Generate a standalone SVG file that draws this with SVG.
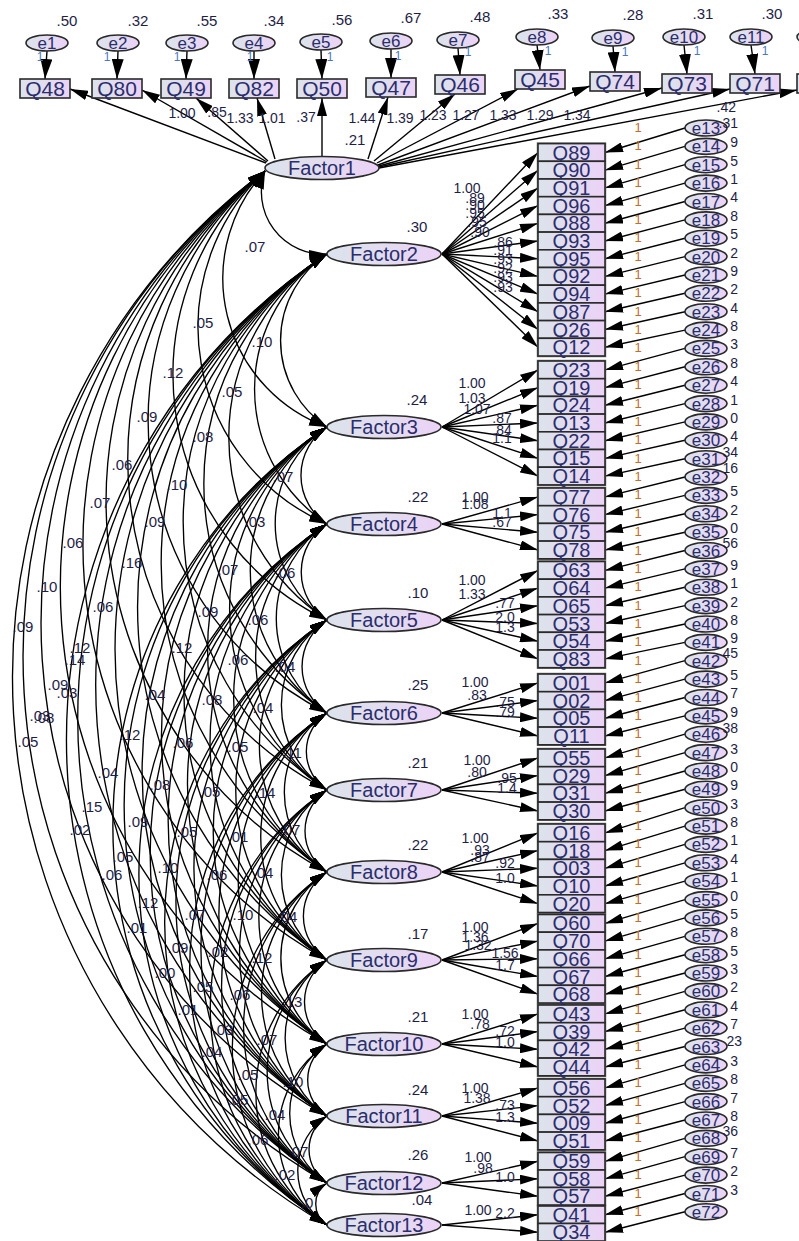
<svg xmlns="http://www.w3.org/2000/svg" width="799" height="1241" viewBox="0 0 799 1241">
<defs>
<linearGradient id="g" x1="0" y1="0" x2="1" y2="0"><stop offset="0" stop-color="#dce3ec"/><stop offset="0.5" stop-color="#e2dcef"/><stop offset="1" stop-color="#ecd2f7"/></linearGradient>
<marker id="a" viewBox="0 0 18 10" refX="18" refY="5" markerWidth="18" markerHeight="10" markerUnits="userSpaceOnUse" orient="auto-start-reverse"><path d="M0,0 L18,5 L0,10 z" fill="#000"/></marker>
<marker id="b" viewBox="0 0 20 12" refX="20" refY="6" markerWidth="20" markerHeight="12" markerUnits="userSpaceOnUse" orient="auto"><path d="M0,0 L20,6 L0,12 z" fill="#000"/></marker>
</defs>
<style>
.c{fill:none;stroke:#000;stroke-width:1.4;marker-end:url(#a)}
.t{fill:none;stroke:#000;stroke-width:1.4;marker-end:url(#b)}
.cv{fill:none;stroke:#000;stroke-width:1.35;marker-start:url(#a);marker-end:url(#a)}
.n{fill:url(#g);stroke:#2a2a2a;stroke-width:1.6}
.grp{fill:none;stroke:#777;stroke-width:2.5}
.tn{font-family:'Liberation Sans',Arial,sans-serif;fill:#2b2e6c;text-anchor:middle}
.f{font-size:20px}
.q{font-size:20px}
.qt{font-size:21px}
.et{font-size:17px}
.nm{font-family:'Liberation Sans',Arial,sans-serif;font-size:15px;fill:#1e1e46;text-anchor:middle}
.ld{font-family:'Liberation Sans',Arial,sans-serif;font-size:14px;fill:#1e1e46;text-anchor:middle}
.r2{font-family:'Liberation Sans',Arial,sans-serif;font-size:14px;fill:#1e1e46;text-anchor:end}
.one{font-family:'Liberation Sans',Arial,sans-serif;font-size:13px;fill:#c0702a;text-anchor:middle}
.oneb{font-family:'Liberation Sans',Arial,sans-serif;font-size:12px;fill:#4a78c0;text-anchor:middle}
</style>
<rect width="799" height="1241" fill="#fff"/>
<g id="connectors">
<path class="t" d="M47,51 L45,79"/><path class="t" d="M118,51 L117,79"/><path class="t" d="M187,51 L186,79"/><path class="t" d="M254,51 L254,79"/><path class="t" d="M321,50 L322,79"/><path class="t" d="M391,49 L391,78"/><path class="t" d="M458,48 L460,75"/><path class="t" d="M537,45 L540,70"/><path class="t" d="M613,46 L615,72"/><path class="t" d="M684,45 L687,74"/><path class="t" d="M751,45 L755,74"/><path class="t" d="M821,45 L822,74"/>
<path class="c" d="M266,163 L70,89"/><path class="c" d="M267,162 L142,90"/><path class="c" d="M268,161 L196,98"/><path class="c" d="M275,159 L257,98"/><path class="c" d="M322,156 L322,98"/><path class="c" d="M368,159 L388,97"/><path class="c" d="M374,161 L455,94"/><path class="c" d="M377,163 L518,89"/><path class="c" d="M378,165 L590,86"/><path class="c" d="M379,166 L662,88"/><path class="c" d="M379,167 L730,89"/><path class="c" d="M379,168 L797,90"/>
<path class="c" d="M442,254 L538,152.5"/><path class="c" d="M442,254 L538,170.2"/><path class="c" d="M442,254 L538,187.9"/><path class="c" d="M442,254 L538,205.6"/><path class="c" d="M442,254 L538,223.3"/><path class="c" d="M442,254 L538,241"/><path class="c" d="M442,254 L538,258.7"/><path class="c" d="M442,254 L538,276.4"/><path class="c" d="M442,254 L538,294.1"/><path class="c" d="M442,254 L538,311.8"/><path class="c" d="M442,254 L538,329.5"/><path class="c" d="M442,254 L538,347.2"/>
<path class="c" d="M442,427 L538,369.9"/><path class="c" d="M442,427 L538,387.6"/><path class="c" d="M442,427 L538,405.3"/><path class="c" d="M442,427 L538,423"/><path class="c" d="M442,427 L538,440.7"/><path class="c" d="M442,427 L538,458.4"/><path class="c" d="M442,427 L538,476.1"/>
<path class="c" d="M442,524 L538,496.9"/><path class="c" d="M442,524 L538,514.6"/><path class="c" d="M442,524 L538,532.3"/><path class="c" d="M442,524 L538,550"/>
<path class="c" d="M442,620 L538,570.4"/><path class="c" d="M442,620 L538,588.1"/><path class="c" d="M442,620 L538,605.8"/><path class="c" d="M442,620 L538,623.5"/><path class="c" d="M442,620 L538,641.2"/><path class="c" d="M442,620 L538,658.9"/>
<path class="c" d="M442,713 L538,682.9"/><path class="c" d="M442,713 L538,700.6"/><path class="c" d="M442,713 L538,718.3"/><path class="c" d="M442,713 L538,736"/>
<path class="c" d="M442,790 L538,757.9"/><path class="c" d="M442,790 L538,775.6"/><path class="c" d="M442,790 L538,793.3"/><path class="c" d="M442,790 L538,811"/>
<path class="c" d="M442,872 L538,832.9"/><path class="c" d="M442,872 L538,850.6"/><path class="c" d="M442,872 L538,868.3"/><path class="c" d="M442,872 L538,886"/><path class="c" d="M442,872 L538,903.7"/>
<path class="c" d="M442,960 L538,923.4"/><path class="c" d="M442,960 L538,941.1"/><path class="c" d="M442,960 L538,958.8"/><path class="c" d="M442,960 L538,976.5"/><path class="c" d="M442,960 L538,994.2"/>
<path class="c" d="M442,1044 L538,1013.9"/><path class="c" d="M442,1044 L538,1031.6"/><path class="c" d="M442,1044 L538,1049.3"/><path class="c" d="M442,1044 L538,1067"/>
<path class="c" d="M442,1116 L538,1087.9"/><path class="c" d="M442,1116 L538,1105.6"/><path class="c" d="M442,1116 L538,1123.3"/><path class="c" d="M442,1116 L538,1141"/>
<path class="c" d="M442,1183 L538,1161.3"/><path class="c" d="M442,1183 L538,1178.8"/><path class="c" d="M442,1183 L538,1196.3"/>
<path class="c" d="M442,1225 L538,1214.8"/><path class="c" d="M442,1225 L538,1232.3"/>
<path class="c" d="M685,128 L605,152.5"/><path class="c" d="M685,146.4 L605,170.2"/><path class="c" d="M685,164.7 L605,187.9"/><path class="c" d="M685,183.1 L605,205.6"/><path class="c" d="M685,201.5 L605,223.3"/><path class="c" d="M685,219.9 L605,241"/><path class="c" d="M685,238.2 L605,258.7"/><path class="c" d="M685,256.6 L605,276.4"/><path class="c" d="M685,275 L605,294.1"/><path class="c" d="M685,293.3 L605,311.8"/><path class="c" d="M685,311.7 L605,329.5"/><path class="c" d="M685,330.1 L605,347.2"/>
<path class="c" d="M685,348.4 L605,369.9"/><path class="c" d="M685,366.8 L605,387.6"/><path class="c" d="M685,385.2 L605,405.3"/><path class="c" d="M685,403.6 L605,423"/><path class="c" d="M685,421.9 L605,440.7"/><path class="c" d="M685,440.3 L605,458.4"/><path class="c" d="M685,458.7 L605,476.1"/>
<path class="c" d="M685,477 L605,496.9"/><path class="c" d="M685,495.4 L605,514.6"/><path class="c" d="M685,513.8 L605,532.3"/><path class="c" d="M685,532.2 L605,550"/>
<path class="c" d="M685,550.5 L605,570.4"/><path class="c" d="M685,568.9 L605,588.1"/><path class="c" d="M685,587.3 L605,605.8"/><path class="c" d="M685,605.6 L605,623.5"/><path class="c" d="M685,624 L605,641.2"/><path class="c" d="M685,642.4 L605,658.9"/>
<path class="c" d="M685,660.7 L605,682.9"/><path class="c" d="M685,679.1 L605,700.6"/><path class="c" d="M685,697.5 L605,718.3"/><path class="c" d="M685,715.9 L605,736"/>
<path class="c" d="M685,734.2 L605,757.9"/><path class="c" d="M685,752.6 L605,775.6"/><path class="c" d="M685,771 L605,793.3"/><path class="c" d="M685,789.3 L605,811"/>
<path class="c" d="M685,807.7 L605,832.9"/><path class="c" d="M685,826.1 L605,850.6"/><path class="c" d="M685,844.4 L605,868.3"/><path class="c" d="M685,862.8 L605,886"/><path class="c" d="M685,881.2 L605,903.7"/>
<path class="c" d="M685,899.6 L605,923.4"/><path class="c" d="M685,917.9 L605,941.1"/><path class="c" d="M685,936.3 L605,958.8"/><path class="c" d="M685,954.7 L605,976.5"/><path class="c" d="M685,973 L605,994.2"/>
<path class="c" d="M685,991.4 L605,1013.9"/><path class="c" d="M685,1009.8 L605,1031.6"/><path class="c" d="M685,1028.1 L605,1049.3"/><path class="c" d="M685,1046.5 L605,1067"/>
<path class="c" d="M685,1064.9 L605,1087.9"/><path class="c" d="M685,1083.3 L605,1105.6"/><path class="c" d="M685,1101.6 L605,1123.3"/><path class="c" d="M685,1120 L605,1141"/>
<path class="c" d="M685,1138.4 L605,1161.3"/><path class="c" d="M685,1156.7 L605,1178.8"/><path class="c" d="M685,1175.1 L605,1196.3"/>
<path class="c" d="M685,1193.5 L605,1214.8"/><path class="c" d="M685,1211.8 L605,1232.3"/>
<path class="cv" d="M265,171 A62.2 62.2 0 0 0 327,254"/>
<path class="cv" d="M265,171 A158 158 0 0 0 327,427"/>
<path class="cv" d="M265,171 A215 215 0 0 0 327,524"/>
<path class="cv" d="M265,171 A272 272 0 0 0 327,620"/>
<path class="cv" d="M265,171 A327 327 0 0 0 327,713"/>
<path class="cv" d="M265,171 A373 373 0 0 0 327,790"/>
<path class="cv" d="M265,171 A422 422 0 0 0 327,872"/>
<path class="cv" d="M265,171 A475 475 0 0 0 327,960"/>
<path class="cv" d="M265,171 A525 525 0 0 0 327,1044"/>
<path class="cv" d="M265,171 A568 568 0 0 0 327,1116"/>
<path class="cv" d="M265,171 A608 608 0 0 0 327,1183"/>
<path class="cv" d="M265,171 A634 634 0 0 0 327,1225"/>
<path class="cv" d="M327,254 A103.8 103.8 0 0 0 327,427"/>
<path class="cv" d="M327,254 A162 162 0 0 0 327,524"/>
<path class="cv" d="M327,254 A219.6 219.6 0 0 0 327,620"/>
<path class="cv" d="M327,254 A275.4 275.4 0 0 0 327,713"/>
<path class="cv" d="M327,254 A321.6 321.6 0 0 0 327,790"/>
<path class="cv" d="M327,254 A370.8 370.8 0 0 0 327,872"/>
<path class="cv" d="M327,254 A423.6 423.6 0 0 0 327,960"/>
<path class="cv" d="M327,254 A474 474 0 0 0 327,1044"/>
<path class="cv" d="M327,254 A517.2 517.2 0 0 0 327,1116"/>
<path class="cv" d="M327,254 A557.4 557.4 0 0 0 327,1183"/>
<path class="cv" d="M327,254 A582.6 582.6 0 0 0 327,1225"/>
<path class="cv" d="M327,427 A58.2 58.2 0 0 0 327,524"/>
<path class="cv" d="M327,427 A115.8 115.8 0 0 0 327,620"/>
<path class="cv" d="M327,427 A171.6 171.6 0 0 0 327,713"/>
<path class="cv" d="M327,427 A217.8 217.8 0 0 0 327,790"/>
<path class="cv" d="M327,427 A267 267 0 0 0 327,872"/>
<path class="cv" d="M327,427 A319.8 319.8 0 0 0 327,960"/>
<path class="cv" d="M327,427 A370.2 370.2 0 0 0 327,1044"/>
<path class="cv" d="M327,427 A413.4 413.4 0 0 0 327,1116"/>
<path class="cv" d="M327,427 A453.6 453.6 0 0 0 327,1183"/>
<path class="cv" d="M327,427 A478.8 478.8 0 0 0 327,1225"/>
<path class="cv" d="M327,524 A57.6 57.6 0 0 0 327,620"/>
<path class="cv" d="M327,524 A113.4 113.4 0 0 0 327,713"/>
<path class="cv" d="M327,524 A159.6 159.6 0 0 0 327,790"/>
<path class="cv" d="M327,524 A208.8 208.8 0 0 0 327,872"/>
<path class="cv" d="M327,524 A261.6 261.6 0 0 0 327,960"/>
<path class="cv" d="M327,524 A312 312 0 0 0 327,1044"/>
<path class="cv" d="M327,524 A355.2 355.2 0 0 0 327,1116"/>
<path class="cv" d="M327,524 A395.4 395.4 0 0 0 327,1183"/>
<path class="cv" d="M327,524 A420.6 420.6 0 0 0 327,1225"/>
<path class="cv" d="M327,620 A55.8 55.8 0 0 0 327,713"/>
<path class="cv" d="M327,620 A102 102 0 0 0 327,790"/>
<path class="cv" d="M327,620 A151.2 151.2 0 0 0 327,872"/>
<path class="cv" d="M327,620 A204 204 0 0 0 327,960"/>
<path class="cv" d="M327,620 A254.4 254.4 0 0 0 327,1044"/>
<path class="cv" d="M327,620 A297.6 297.6 0 0 0 327,1116"/>
<path class="cv" d="M327,620 A337.8 337.8 0 0 0 327,1183"/>
<path class="cv" d="M327,620 A363 363 0 0 0 327,1225"/>
<path class="cv" d="M327,713 A46.2 46.2 0 0 0 327,790"/>
<path class="cv" d="M327,713 A95.4 95.4 0 0 0 327,872"/>
<path class="cv" d="M327,713 A148.2 148.2 0 0 0 327,960"/>
<path class="cv" d="M327,713 A198.6 198.6 0 0 0 327,1044"/>
<path class="cv" d="M327,713 A241.8 241.8 0 0 0 327,1116"/>
<path class="cv" d="M327,713 A282 282 0 0 0 327,1183"/>
<path class="cv" d="M327,713 A307.2 307.2 0 0 0 327,1225"/>
<path class="cv" d="M327,790 A49.2 49.2 0 0 0 327,872"/>
<path class="cv" d="M327,790 A102 102 0 0 0 327,960"/>
<path class="cv" d="M327,790 A152.4 152.4 0 0 0 327,1044"/>
<path class="cv" d="M327,790 A195.6 195.6 0 0 0 327,1116"/>
<path class="cv" d="M327,790 A235.8 235.8 0 0 0 327,1183"/>
<path class="cv" d="M327,790 A261 261 0 0 0 327,1225"/>
<path class="cv" d="M327,872 A52.8 52.8 0 0 0 327,960"/>
<path class="cv" d="M327,872 A103.2 103.2 0 0 0 327,1044"/>
<path class="cv" d="M327,872 A146.4 146.4 0 0 0 327,1116"/>
<path class="cv" d="M327,872 A186.6 186.6 0 0 0 327,1183"/>
<path class="cv" d="M327,872 A211.8 211.8 0 0 0 327,1225"/>
<path class="cv" d="M327,960 A50.4 50.4 0 0 0 327,1044"/>
<path class="cv" d="M327,960 A93.6 93.6 0 0 0 327,1116"/>
<path class="cv" d="M327,960 A133.8 133.8 0 0 0 327,1183"/>
<path class="cv" d="M327,960 A159 159 0 0 0 327,1225"/>
<path class="cv" d="M327,1044 A43.2 43.2 0 0 0 327,1116"/>
<path class="cv" d="M327,1044 A83.4 83.4 0 0 0 327,1183"/>
<path class="cv" d="M327,1044 A108.6 108.6 0 0 0 327,1225"/>
<path class="cv" d="M327,1116 A40.2 40.2 0 0 0 327,1183"/>
<path class="cv" d="M327,1116 A65.4 65.4 0 0 0 327,1225"/>
<path class="cv" d="M327,1183 A25.2 25.2 0 0 0 327,1225"/>
</g>
<g id="top-errors">
<g id="e1"><ellipse class="n" cx="47" cy="43" rx="21" ry="8"/><text class="tn et" x="47" y="49">e1</text></g>
<g id="e2"><ellipse class="n" cx="118" cy="43" rx="21" ry="8"/><text class="tn et" x="118" y="49">e2</text></g>
<g id="e3"><ellipse class="n" cx="187" cy="43" rx="21" ry="8"/><text class="tn et" x="187" y="49">e3</text></g>
<g id="e4"><ellipse class="n" cx="254" cy="43" rx="21" ry="8"/><text class="tn et" x="254" y="49">e4</text></g>
<g id="e5"><ellipse class="n" cx="321" cy="42" rx="21" ry="8"/><text class="tn et" x="321" y="48">e5</text></g>
<g id="e6"><ellipse class="n" cx="391" cy="41" rx="21" ry="8"/><text class="tn et" x="391" y="47">e6</text></g>
<g id="e7"><ellipse class="n" cx="458" cy="40" rx="21" ry="8"/><text class="tn et" x="458" y="46">e7</text></g>
<g id="e8"><ellipse class="n" cx="537" cy="37" rx="21" ry="8"/><text class="tn et" x="537" y="43">e8</text></g>
<g id="e9"><ellipse class="n" cx="613" cy="38" rx="21" ry="8"/><text class="tn et" x="613" y="44">e9</text></g>
<g id="e10"><ellipse class="n" cx="684" cy="37" rx="21" ry="8"/><text class="tn et" x="684" y="43">e10</text></g>
<g id="e11"><ellipse class="n" cx="751" cy="37" rx="21" ry="8"/><text class="tn et" x="751" y="43">e11</text></g>
<g id="e12"><ellipse class="n" cx="818" cy="37" rx="21" ry="8"/></g>
</g>
<g id="top-items">
<g id="Q48"><rect class="n" x="20" y="79" width="50" height="19"/><text class="tn qt" x="45" y="95.5">Q48</text></g>
<g id="Q80"><rect class="n" x="92" y="79" width="50" height="19"/><text class="tn qt" x="117" y="95.5">Q80</text></g>
<g id="Q49"><rect class="n" x="161" y="79" width="50" height="19"/><text class="tn qt" x="186" y="95.5">Q49</text></g>
<g id="Q82"><rect class="n" x="229" y="79" width="50" height="19"/><text class="tn qt" x="254" y="95.5">Q82</text></g>
<g id="Q50"><rect class="n" x="297" y="79" width="50" height="19"/><text class="tn qt" x="322" y="95.5">Q50</text></g>
<g id="Q47"><rect class="n" x="366" y="78" width="50" height="19"/><text class="tn qt" x="391" y="94.5">Q47</text></g>
<g id="Q46"><rect class="n" x="435" y="75" width="50" height="19"/><text class="tn qt" x="460" y="91.5">Q46</text></g>
<g id="Q45"><rect class="n" x="515" y="70" width="50" height="19"/><text class="tn qt" x="540" y="86.5">Q45</text></g>
<g id="Q74"><rect class="n" x="590" y="72" width="50" height="19"/><text class="tn qt" x="615" y="88.5">Q74</text></g>
<g id="Q73"><rect class="n" x="662" y="74" width="50" height="19"/><text class="tn qt" x="687" y="90.5">Q73</text></g>
<g id="Q71"><rect class="n" x="730" y="74" width="50" height="19"/><text class="tn qt" x="755" y="90.5">Q71</text></g>
<g id="Q-edge"><rect class="n" x="797" y="74" width="50" height="19"/></g>
</g>
<g id="factors">
<g id="Factor1"><ellipse class="n" cx="322" cy="168" rx="57" ry="11.5"/><text class="tn f" x="322" y="175">Factor1</text></g>
<g id="Factor2"><ellipse class="n" cx="384" cy="254" rx="57" ry="11.5"/><text class="tn f" x="384" y="261">Factor2</text></g>
<g id="Factor3"><ellipse class="n" cx="384" cy="427" rx="57" ry="11.5"/><text class="tn f" x="384" y="434">Factor3</text></g>
<g id="Factor4"><ellipse class="n" cx="384" cy="524" rx="57" ry="11.5"/><text class="tn f" x="384" y="531">Factor4</text></g>
<g id="Factor5"><ellipse class="n" cx="384" cy="620" rx="57" ry="11.5"/><text class="tn f" x="384" y="627">Factor5</text></g>
<g id="Factor6"><ellipse class="n" cx="384" cy="713" rx="57" ry="11.5"/><text class="tn f" x="384" y="720">Factor6</text></g>
<g id="Factor7"><ellipse class="n" cx="384" cy="790" rx="57" ry="11.5"/><text class="tn f" x="384" y="797">Factor7</text></g>
<g id="Factor8"><ellipse class="n" cx="384" cy="872" rx="57" ry="11.5"/><text class="tn f" x="384" y="879">Factor8</text></g>
<g id="Factor9"><ellipse class="n" cx="384" cy="960" rx="57" ry="11.5"/><text class="tn f" x="384" y="967">Factor9</text></g>
<g id="Factor10"><ellipse class="n" cx="384" cy="1044" rx="57" ry="11.5"/><text class="tn f" x="384" y="1051">Factor10</text></g>
<g id="Factor11"><ellipse class="n" cx="384" cy="1116" rx="57" ry="11.5"/><text class="tn f" x="384" y="1123">Factor11</text></g>
<g id="Factor12"><ellipse class="n" cx="384" cy="1183" rx="57" ry="11.5"/><text class="tn f" x="384" y="1190">Factor12</text></g>
<g id="Factor13"><ellipse class="n" cx="384" cy="1225" rx="57" ry="11.5"/><text class="tn f" x="384" y="1232">Factor13</text></g>
</g>
<g id="items">
<rect class="grp" x="538" y="143.6" width="67" height="212.4"/>
<rect class="grp" x="538" y="361" width="67" height="123.9"/>
<rect class="grp" x="538" y="488" width="67" height="70.8"/>
<rect class="grp" x="538" y="561.5" width="67" height="106.2"/>
<rect class="grp" x="538" y="674" width="67" height="70.8"/>
<rect class="grp" x="538" y="749" width="67" height="70.8"/>
<rect class="grp" x="538" y="824" width="67" height="88.5"/>
<rect class="grp" x="538" y="914.5" width="67" height="88.5"/>
<rect class="grp" x="538" y="1005" width="67" height="70.8"/>
<rect class="grp" x="538" y="1079" width="67" height="70.8"/>
<rect class="grp" x="538" y="1152.5" width="67" height="52.5"/>
<rect class="grp" x="538" y="1206" width="67" height="35"/>
<g id="Q89"><rect class="n" x="538" y="143.6" width="67" height="17.7"/><text class="tn q" x="571.5" y="159.5">Q89</text></g>
<g id="Q90"><rect class="n" x="538" y="161.3" width="67" height="17.7"/><text class="tn q" x="571.5" y="177.2">Q90</text></g>
<g id="Q91"><rect class="n" x="538" y="179" width="67" height="17.7"/><text class="tn q" x="571.5" y="194.9">Q91</text></g>
<g id="Q96"><rect class="n" x="538" y="196.7" width="67" height="17.7"/><text class="tn q" x="571.5" y="212.6">Q96</text></g>
<g id="Q88"><rect class="n" x="538" y="214.4" width="67" height="17.7"/><text class="tn q" x="571.5" y="230.3">Q88</text></g>
<g id="Q93"><rect class="n" x="538" y="232.1" width="67" height="17.7"/><text class="tn q" x="571.5" y="248">Q93</text></g>
<g id="Q95"><rect class="n" x="538" y="249.8" width="67" height="17.7"/><text class="tn q" x="571.5" y="265.7">Q95</text></g>
<g id="Q92"><rect class="n" x="538" y="267.5" width="67" height="17.7"/><text class="tn q" x="571.5" y="283.4">Q92</text></g>
<g id="Q94"><rect class="n" x="538" y="285.2" width="67" height="17.7"/><text class="tn q" x="571.5" y="301.1">Q94</text></g>
<g id="Q87"><rect class="n" x="538" y="302.9" width="67" height="17.7"/><text class="tn q" x="571.5" y="318.8">Q87</text></g>
<g id="Q26"><rect class="n" x="538" y="320.6" width="67" height="17.7"/><text class="tn q" x="571.5" y="336.5">Q26</text></g>
<g id="Q12"><rect class="n" x="538" y="338.3" width="67" height="17.7"/><text class="tn q" x="571.5" y="354.2">Q12</text></g>
<g id="Q23"><rect class="n" x="538" y="361" width="67" height="17.7"/><text class="tn q" x="571.5" y="376.9">Q23</text></g>
<g id="Q19"><rect class="n" x="538" y="378.7" width="67" height="17.7"/><text class="tn q" x="571.5" y="394.6">Q19</text></g>
<g id="Q24"><rect class="n" x="538" y="396.4" width="67" height="17.7"/><text class="tn q" x="571.5" y="412.3">Q24</text></g>
<g id="Q13"><rect class="n" x="538" y="414.1" width="67" height="17.7"/><text class="tn q" x="571.5" y="430">Q13</text></g>
<g id="Q22"><rect class="n" x="538" y="431.8" width="67" height="17.7"/><text class="tn q" x="571.5" y="447.7">Q22</text></g>
<g id="Q15"><rect class="n" x="538" y="449.5" width="67" height="17.7"/><text class="tn q" x="571.5" y="465.4">Q15</text></g>
<g id="Q14"><rect class="n" x="538" y="467.2" width="67" height="17.7"/><text class="tn q" x="571.5" y="483.1">Q14</text></g>
<g id="Q77"><rect class="n" x="538" y="488" width="67" height="17.7"/><text class="tn q" x="571.5" y="503.9">Q77</text></g>
<g id="Q76"><rect class="n" x="538" y="505.7" width="67" height="17.7"/><text class="tn q" x="571.5" y="521.6">Q76</text></g>
<g id="Q75"><rect class="n" x="538" y="523.4" width="67" height="17.7"/><text class="tn q" x="571.5" y="539.3">Q75</text></g>
<g id="Q78"><rect class="n" x="538" y="541.1" width="67" height="17.7"/><text class="tn q" x="571.5" y="557">Q78</text></g>
<g id="Q63"><rect class="n" x="538" y="561.5" width="67" height="17.7"/><text class="tn q" x="571.5" y="577.4">Q63</text></g>
<g id="Q64"><rect class="n" x="538" y="579.2" width="67" height="17.7"/><text class="tn q" x="571.5" y="595.1">Q64</text></g>
<g id="Q65"><rect class="n" x="538" y="596.9" width="67" height="17.7"/><text class="tn q" x="571.5" y="612.8">Q65</text></g>
<g id="Q53"><rect class="n" x="538" y="614.6" width="67" height="17.7"/><text class="tn q" x="571.5" y="630.5">Q53</text></g>
<g id="Q54"><rect class="n" x="538" y="632.3" width="67" height="17.7"/><text class="tn q" x="571.5" y="648.2">Q54</text></g>
<g id="Q83"><rect class="n" x="538" y="650" width="67" height="17.7"/><text class="tn q" x="571.5" y="665.9">Q83</text></g>
<g id="Q01"><rect class="n" x="538" y="674" width="67" height="17.7"/><text class="tn q" x="571.5" y="689.9">Q01</text></g>
<g id="Q02"><rect class="n" x="538" y="691.7" width="67" height="17.7"/><text class="tn q" x="571.5" y="707.6">Q02</text></g>
<g id="Q05"><rect class="n" x="538" y="709.4" width="67" height="17.7"/><text class="tn q" x="571.5" y="725.3">Q05</text></g>
<g id="Q11"><rect class="n" x="538" y="727.1" width="67" height="17.7"/><text class="tn q" x="571.5" y="743">Q11</text></g>
<g id="Q55"><rect class="n" x="538" y="749" width="67" height="17.7"/><text class="tn q" x="571.5" y="764.9">Q55</text></g>
<g id="Q29"><rect class="n" x="538" y="766.7" width="67" height="17.7"/><text class="tn q" x="571.5" y="782.6">Q29</text></g>
<g id="Q31"><rect class="n" x="538" y="784.4" width="67" height="17.7"/><text class="tn q" x="571.5" y="800.3">Q31</text></g>
<g id="Q30"><rect class="n" x="538" y="802.1" width="67" height="17.7"/><text class="tn q" x="571.5" y="818">Q30</text></g>
<g id="Q16"><rect class="n" x="538" y="824" width="67" height="17.7"/><text class="tn q" x="571.5" y="839.9">Q16</text></g>
<g id="Q18"><rect class="n" x="538" y="841.7" width="67" height="17.7"/><text class="tn q" x="571.5" y="857.6">Q18</text></g>
<g id="Q03"><rect class="n" x="538" y="859.4" width="67" height="17.7"/><text class="tn q" x="571.5" y="875.3">Q03</text></g>
<g id="Q10"><rect class="n" x="538" y="877.1" width="67" height="17.7"/><text class="tn q" x="571.5" y="893">Q10</text></g>
<g id="Q20"><rect class="n" x="538" y="894.8" width="67" height="17.7"/><text class="tn q" x="571.5" y="910.7">Q20</text></g>
<g id="Q60"><rect class="n" x="538" y="914.5" width="67" height="17.7"/><text class="tn q" x="571.5" y="930.4">Q60</text></g>
<g id="Q70"><rect class="n" x="538" y="932.2" width="67" height="17.7"/><text class="tn q" x="571.5" y="948.1">Q70</text></g>
<g id="Q66"><rect class="n" x="538" y="949.9" width="67" height="17.7"/><text class="tn q" x="571.5" y="965.8">Q66</text></g>
<g id="Q67"><rect class="n" x="538" y="967.6" width="67" height="17.7"/><text class="tn q" x="571.5" y="983.5">Q67</text></g>
<g id="Q68"><rect class="n" x="538" y="985.3" width="67" height="17.7"/><text class="tn q" x="571.5" y="1001.2">Q68</text></g>
<g id="Q43"><rect class="n" x="538" y="1005" width="67" height="17.7"/><text class="tn q" x="571.5" y="1020.9">Q43</text></g>
<g id="Q39"><rect class="n" x="538" y="1022.7" width="67" height="17.7"/><text class="tn q" x="571.5" y="1038.6">Q39</text></g>
<g id="Q42"><rect class="n" x="538" y="1040.4" width="67" height="17.7"/><text class="tn q" x="571.5" y="1056.3">Q42</text></g>
<g id="Q44"><rect class="n" x="538" y="1058.1" width="67" height="17.7"/><text class="tn q" x="571.5" y="1074">Q44</text></g>
<g id="Q56"><rect class="n" x="538" y="1079" width="67" height="17.7"/><text class="tn q" x="571.5" y="1094.9">Q56</text></g>
<g id="Q52"><rect class="n" x="538" y="1096.7" width="67" height="17.7"/><text class="tn q" x="571.5" y="1112.6">Q52</text></g>
<g id="Q09"><rect class="n" x="538" y="1114.4" width="67" height="17.7"/><text class="tn q" x="571.5" y="1130.3">Q09</text></g>
<g id="Q51"><rect class="n" x="538" y="1132.1" width="67" height="17.7"/><text class="tn q" x="571.5" y="1148">Q51</text></g>
<g id="Q59"><rect class="n" x="538" y="1152.5" width="67" height="17.5"/><text class="tn q" x="571.5" y="1168.3">Q59</text></g>
<g id="Q58"><rect class="n" x="538" y="1170" width="67" height="17.5"/><text class="tn q" x="571.5" y="1185.8">Q58</text></g>
<g id="Q57"><rect class="n" x="538" y="1187.5" width="67" height="17.5"/><text class="tn q" x="571.5" y="1203.3">Q57</text></g>
<g id="Q41"><rect class="n" x="538" y="1206" width="67" height="17.5"/><text class="tn q" x="571.5" y="1221.8">Q41</text></g>
<g id="Q34"><rect class="n" x="538" y="1223.5" width="67" height="17.5"/><text class="tn q" x="571.5" y="1239.3">Q34</text></g>
</g>
<g id="errors">
<g id="e13"><ellipse class="n" cx="706" cy="128" rx="21" ry="8"/><text class="tn et" x="706" y="134">e13</text></g>
<g id="e14"><ellipse class="n" cx="706" cy="146.4" rx="21" ry="8"/><text class="tn et" x="706" y="152.4">e14</text></g>
<g id="e15"><ellipse class="n" cx="706" cy="164.7" rx="21" ry="8"/><text class="tn et" x="706" y="170.7">e15</text></g>
<g id="e16"><ellipse class="n" cx="706" cy="183.1" rx="21" ry="8"/><text class="tn et" x="706" y="189.1">e16</text></g>
<g id="e17"><ellipse class="n" cx="706" cy="201.5" rx="21" ry="8"/><text class="tn et" x="706" y="207.5">e17</text></g>
<g id="e18"><ellipse class="n" cx="706" cy="219.9" rx="21" ry="8"/><text class="tn et" x="706" y="225.9">e18</text></g>
<g id="e19"><ellipse class="n" cx="706" cy="238.2" rx="21" ry="8"/><text class="tn et" x="706" y="244.2">e19</text></g>
<g id="e20"><ellipse class="n" cx="706" cy="256.6" rx="21" ry="8"/><text class="tn et" x="706" y="262.6">e20</text></g>
<g id="e21"><ellipse class="n" cx="706" cy="275" rx="21" ry="8"/><text class="tn et" x="706" y="281">e21</text></g>
<g id="e22"><ellipse class="n" cx="706" cy="293.3" rx="21" ry="8"/><text class="tn et" x="706" y="299.3">e22</text></g>
<g id="e23"><ellipse class="n" cx="706" cy="311.7" rx="21" ry="8"/><text class="tn et" x="706" y="317.7">e23</text></g>
<g id="e24"><ellipse class="n" cx="706" cy="330.1" rx="21" ry="8"/><text class="tn et" x="706" y="336.1">e24</text></g>
<g id="e25"><ellipse class="n" cx="706" cy="348.4" rx="21" ry="8"/><text class="tn et" x="706" y="354.4">e25</text></g>
<g id="e26"><ellipse class="n" cx="706" cy="366.8" rx="21" ry="8"/><text class="tn et" x="706" y="372.8">e26</text></g>
<g id="e27"><ellipse class="n" cx="706" cy="385.2" rx="21" ry="8"/><text class="tn et" x="706" y="391.2">e27</text></g>
<g id="e28"><ellipse class="n" cx="706" cy="403.6" rx="21" ry="8"/><text class="tn et" x="706" y="409.6">e28</text></g>
<g id="e29"><ellipse class="n" cx="706" cy="421.9" rx="21" ry="8"/><text class="tn et" x="706" y="427.9">e29</text></g>
<g id="e30"><ellipse class="n" cx="706" cy="440.3" rx="21" ry="8"/><text class="tn et" x="706" y="446.3">e30</text></g>
<g id="e31"><ellipse class="n" cx="706" cy="458.7" rx="21" ry="8"/><text class="tn et" x="706" y="464.7">e31</text></g>
<g id="e32"><ellipse class="n" cx="706" cy="477" rx="21" ry="8"/><text class="tn et" x="706" y="483">e32</text></g>
<g id="e33"><ellipse class="n" cx="706" cy="495.4" rx="21" ry="8"/><text class="tn et" x="706" y="501.4">e33</text></g>
<g id="e34"><ellipse class="n" cx="706" cy="513.8" rx="21" ry="8"/><text class="tn et" x="706" y="519.8">e34</text></g>
<g id="e35"><ellipse class="n" cx="706" cy="532.2" rx="21" ry="8"/><text class="tn et" x="706" y="538.2">e35</text></g>
<g id="e36"><ellipse class="n" cx="706" cy="550.5" rx="21" ry="8"/><text class="tn et" x="706" y="556.5">e36</text></g>
<g id="e37"><ellipse class="n" cx="706" cy="568.9" rx="21" ry="8"/><text class="tn et" x="706" y="574.9">e37</text></g>
<g id="e38"><ellipse class="n" cx="706" cy="587.3" rx="21" ry="8"/><text class="tn et" x="706" y="593.3">e38</text></g>
<g id="e39"><ellipse class="n" cx="706" cy="605.6" rx="21" ry="8"/><text class="tn et" x="706" y="611.6">e39</text></g>
<g id="e40"><ellipse class="n" cx="706" cy="624" rx="21" ry="8"/><text class="tn et" x="706" y="630">e40</text></g>
<g id="e41"><ellipse class="n" cx="706" cy="642.4" rx="21" ry="8"/><text class="tn et" x="706" y="648.4">e41</text></g>
<g id="e42"><ellipse class="n" cx="706" cy="660.7" rx="21" ry="8"/><text class="tn et" x="706" y="666.7">e42</text></g>
<g id="e43"><ellipse class="n" cx="706" cy="679.1" rx="21" ry="8"/><text class="tn et" x="706" y="685.1">e43</text></g>
<g id="e44"><ellipse class="n" cx="706" cy="697.5" rx="21" ry="8"/><text class="tn et" x="706" y="703.5">e44</text></g>
<g id="e45"><ellipse class="n" cx="706" cy="715.9" rx="21" ry="8"/><text class="tn et" x="706" y="721.9">e45</text></g>
<g id="e46"><ellipse class="n" cx="706" cy="734.2" rx="21" ry="8"/><text class="tn et" x="706" y="740.2">e46</text></g>
<g id="e47"><ellipse class="n" cx="706" cy="752.6" rx="21" ry="8"/><text class="tn et" x="706" y="758.6">e47</text></g>
<g id="e48"><ellipse class="n" cx="706" cy="771" rx="21" ry="8"/><text class="tn et" x="706" y="777">e48</text></g>
<g id="e49"><ellipse class="n" cx="706" cy="789.3" rx="21" ry="8"/><text class="tn et" x="706" y="795.3">e49</text></g>
<g id="e50"><ellipse class="n" cx="706" cy="807.7" rx="21" ry="8"/><text class="tn et" x="706" y="813.7">e50</text></g>
<g id="e51"><ellipse class="n" cx="706" cy="826.1" rx="21" ry="8"/><text class="tn et" x="706" y="832.1">e51</text></g>
<g id="e52"><ellipse class="n" cx="706" cy="844.4" rx="21" ry="8"/><text class="tn et" x="706" y="850.4">e52</text></g>
<g id="e53"><ellipse class="n" cx="706" cy="862.8" rx="21" ry="8"/><text class="tn et" x="706" y="868.8">e53</text></g>
<g id="e54"><ellipse class="n" cx="706" cy="881.2" rx="21" ry="8"/><text class="tn et" x="706" y="887.2">e54</text></g>
<g id="e55"><ellipse class="n" cx="706" cy="899.6" rx="21" ry="8"/><text class="tn et" x="706" y="905.6">e55</text></g>
<g id="e56"><ellipse class="n" cx="706" cy="917.9" rx="21" ry="8"/><text class="tn et" x="706" y="923.9">e56</text></g>
<g id="e57"><ellipse class="n" cx="706" cy="936.3" rx="21" ry="8"/><text class="tn et" x="706" y="942.3">e57</text></g>
<g id="e58"><ellipse class="n" cx="706" cy="954.7" rx="21" ry="8"/><text class="tn et" x="706" y="960.7">e58</text></g>
<g id="e59"><ellipse class="n" cx="706" cy="973" rx="21" ry="8"/><text class="tn et" x="706" y="979">e59</text></g>
<g id="e60"><ellipse class="n" cx="706" cy="991.4" rx="21" ry="8"/><text class="tn et" x="706" y="997.4">e60</text></g>
<g id="e61"><ellipse class="n" cx="706" cy="1009.8" rx="21" ry="8"/><text class="tn et" x="706" y="1015.8">e61</text></g>
<g id="e62"><ellipse class="n" cx="706" cy="1028.1" rx="21" ry="8"/><text class="tn et" x="706" y="1034.1">e62</text></g>
<g id="e63"><ellipse class="n" cx="706" cy="1046.5" rx="21" ry="8"/><text class="tn et" x="706" y="1052.5">e63</text></g>
<g id="e64"><ellipse class="n" cx="706" cy="1064.9" rx="21" ry="8"/><text class="tn et" x="706" y="1070.9">e64</text></g>
<g id="e65"><ellipse class="n" cx="706" cy="1083.3" rx="21" ry="8"/><text class="tn et" x="706" y="1089.3">e65</text></g>
<g id="e66"><ellipse class="n" cx="706" cy="1101.6" rx="21" ry="8"/><text class="tn et" x="706" y="1107.6">e66</text></g>
<g id="e67"><ellipse class="n" cx="706" cy="1120" rx="21" ry="8"/><text class="tn et" x="706" y="1126">e67</text></g>
<g id="e68"><ellipse class="n" cx="706" cy="1138.4" rx="21" ry="8"/><text class="tn et" x="706" y="1144.4">e68</text></g>
<g id="e69"><ellipse class="n" cx="706" cy="1156.7" rx="21" ry="8"/><text class="tn et" x="706" y="1162.7">e69</text></g>
<g id="e70"><ellipse class="n" cx="706" cy="1175.1" rx="21" ry="8"/><text class="tn et" x="706" y="1181.1">e70</text></g>
<g id="e71"><ellipse class="n" cx="706" cy="1193.5" rx="21" ry="8"/><text class="tn et" x="706" y="1199.5">e71</text></g>
<g id="e72"><ellipse class="n" cx="706" cy="1211.8" rx="21" ry="8"/><text class="tn et" x="706" y="1217.8">e72</text></g>
</g>
<g id="labels">
<text class="nm" x="67" y="26">.50</text><text class="nm" x="138" y="26">.32</text><text class="nm" x="207" y="26">.55</text><text class="nm" x="274" y="26">.34</text><text class="nm" x="342" y="25">.56</text><text class="nm" x="411" y="23">.67</text><text class="nm" x="480" y="22">.48</text><text class="nm" x="558" y="19">.33</text><text class="nm" x="633" y="20">.28</text><text class="nm" x="703" y="19">.31</text><text class="nm" x="772" y="19">.30</text>
<text class="oneb" x="40" y="61">1</text><text class="oneb" x="107" y="61">1</text><text class="oneb" x="177" y="61">1</text><text class="oneb" x="250" y="61">1</text><text class="oneb" x="330" y="61">1</text><text class="oneb" x="398" y="60">1</text><text class="oneb" x="468" y="56">1</text><text class="oneb" x="548" y="55">1</text><text class="oneb" x="625" y="56">1</text><text class="oneb" x="697" y="55">1</text><text class="oneb" x="765" y="55">1</text>
<text class="ld" x="182" y="118">1.00</text><text class="ld" x="217" y="117">.85</text><text class="ld" x="240" y="123">1.33</text><text class="ld" x="272" y="123">1.01</text><text class="ld" x="306" y="122">.37</text><text class="ld" x="362" y="123">1.44</text><text class="ld" x="400" y="123">1.39</text><text class="ld" x="433" y="120">1.23</text><text class="ld" x="466" y="120">1.27</text><text class="ld" x="503" y="120">1.33</text><text class="ld" x="540" y="120">1.29</text><text class="ld" x="577" y="120">1.34</text>
<text class="nm" x="355" y="145">.21</text><text class="nm" x="417" y="232">.30</text><text class="nm" x="417" y="405">.24</text><text class="nm" x="418" y="502">.22</text><text class="nm" x="418" y="598">.10</text><text class="nm" x="418" y="690">.25</text><text class="nm" x="418" y="768">.21</text><text class="nm" x="418" y="850">.22</text><text class="nm" x="418" y="939">.17</text><text class="nm" x="418" y="1022">.21</text><text class="nm" x="418" y="1095">.24</text><text class="nm" x="418" y="1160">.26</text><text class="nm" x="422" y="1205">.04</text>
<text class="ld" x="467" y="193">1.00</text><text class="ld" x="475" y="203">.89</text><text class="ld" x="475" y="210">.90</text><text class="ld" x="475" y="218">.95</text><text class="ld" x="477" y="227">.95</text><text class="ld" x="480" y="237">.90</text><text class="ld" x="503" y="247">.86</text><text class="ld" x="503" y="255">.91</text><text class="ld" x="503" y="264">.93</text><text class="ld" x="503" y="273">.92</text><text class="ld" x="503" y="282">.93</text><text class="ld" x="503" y="292">.93</text>
<text class="ld" x="472" y="388">1.00</text><text class="ld" x="472" y="403">1.03</text><text class="ld" x="477" y="414">1.07</text><text class="ld" x="502" y="423">.87</text><text class="ld" x="502" y="435">.84</text><text class="ld" x="502" y="443">1.1</text>
<text class="ld" x="475" y="502">1.00</text><text class="ld" x="475" y="509">1.08</text><text class="ld" x="502" y="518">1.1</text><text class="ld" x="502" y="527">.67</text>
<text class="ld" x="472" y="585">1.00</text><text class="ld" x="472" y="599">1.33</text><text class="ld" x="505" y="608">.77</text><text class="ld" x="505" y="622">2.0</text><text class="ld" x="505" y="632">1.3</text>
<text class="ld" x="475" y="687">1.00</text><text class="ld" x="477" y="700">.83</text><text class="ld" x="505" y="707">.75</text><text class="ld" x="505" y="717">.79</text>
<text class="ld" x="477" y="765">1.00</text><text class="ld" x="477" y="777">.80</text><text class="ld" x="507" y="783">.95</text><text class="ld" x="507" y="793">1.4</text>
<text class="ld" x="475" y="843">1.00</text><text class="ld" x="480" y="855">.93</text><text class="ld" x="480" y="862">.87</text><text class="ld" x="505" y="868">.92</text><text class="ld" x="505" y="883">1.0</text>
<text class="ld" x="475" y="932">1.00</text><text class="ld" x="475" y="942">1.36</text><text class="ld" x="478" y="950">1.32</text><text class="ld" x="505" y="958">1.56</text><text class="ld" x="505" y="970">1.7</text>
<text class="ld" x="475" y="1019">1.00</text><text class="ld" x="480" y="1029">.78</text><text class="ld" x="505" y="1036">.72</text><text class="ld" x="505" y="1047">1.0</text>
<text class="ld" x="475" y="1093">1.00</text><text class="ld" x="477" y="1103">1.38</text><text class="ld" x="505" y="1110">.73</text><text class="ld" x="505" y="1122">1.3</text>
<text class="ld" x="478" y="1162">1.00</text><text class="ld" x="483" y="1173">.98</text><text class="ld" x="505" y="1182">1.0</text>
<text class="ld" x="478" y="1215">1.00</text><text class="ld" x="505" y="1218">2.2</text>
<text class="nm" x="255" y="252">.07</text><text class="nm" x="203" y="328">.05</text><text class="nm" x="262" y="347">.10</text><text class="nm" x="173" y="378">.12</text><text class="nm" x="232" y="397">.05</text><text class="nm" x="147" y="422">.09</text><text class="nm" x="203" y="442">.08</text><text class="nm" x="122" y="470">.06</text><text class="nm" x="283" y="482">.07</text><text class="nm" x="177" y="490">.10</text><text class="nm" x="100" y="508">.07</text><text class="nm" x="155" y="527">.09</text><text class="nm" x="255" y="527">.03</text>
<text class="nm" x="73" y="548">.06</text><text class="nm" x="132" y="568">.16</text><text class="nm" x="228" y="575">.07</text><text class="nm" x="285" y="578">.06</text><text class="nm" x="47" y="592">.10</text><text class="nm" x="103" y="612">.06</text><text class="nm" x="208" y="617">.09</text><text class="nm" x="258" y="625">.06</text><text class="nm" x="23" y="632">.09</text><text class="nm" x="80" y="653">.12</text><text class="nm" x="182" y="653">.12</text><text class="nm" x="75" y="665">.14</text><text class="nm" x="238" y="665">.06</text><text class="nm" x="285" y="672">.04</text>
<text class="nm" x="58" y="690">.09</text><text class="nm" x="67" y="698">.03</text><text class="nm" x="155" y="700">.04</text><text class="nm" x="212" y="705">.08</text><text class="nm" x="263" y="713">.04</text><text class="nm" x="40" y="721">.03</text><text class="nm" x="44" y="723">.08</text><text class="nm" x="28" y="747">.05</text><text class="nm" x="130" y="740">.12</text><text class="nm" x="183" y="748">.06</text><text class="nm" x="238" y="752">.05</text><text class="nm" x="292" y="758">.11</text>
<text class="nm" x="108" y="778">.04</text><text class="nm" x="160" y="790">.08</text><text class="nm" x="210" y="797">.05</text><text class="nm" x="265" y="798">.14</text><text class="nm" x="92" y="812">.15</text><text class="nm" x="138" y="827">.09</text><text class="nm" x="80" y="835">.02</text><text class="nm" x="187" y="837">.05</text><text class="nm" x="238" y="842">.01</text><text class="nm" x="290" y="835">.07</text>
<text class="nm" x="123" y="862">.05</text><text class="nm" x="168" y="873">.10</text><text class="nm" x="217" y="880">.06</text><text class="nm" x="263" y="878">.04</text><text class="nm" x="112" y="880">.06</text><text class="nm" x="148" y="908">.12</text><text class="nm" x="195" y="920">.07</text><text class="nm" x="243" y="920">.10</text><text class="nm" x="287" y="922">.04</text><text class="nm" x="137" y="933">.01</text>
<text class="nm" x="178" y="953">.09</text><text class="nm" x="218" y="957">.02</text><text class="nm" x="262" y="963">.12</text><text class="nm" x="165" y="978">.00</text><text class="nm" x="203" y="992">.05</text><text class="nm" x="240" y="1000">.06</text><text class="nm" x="292" y="1007">.13</text><text class="nm" x="188" y="1015">.01</text><text class="nm" x="223" y="1035">.03</text><text class="nm" x="267" y="1045">.07</text>
<text class="nm" x="212" y="1057">.04</text><text class="nm" x="248" y="1080">.05</text><text class="nm" x="293" y="1087">.10</text><text class="nm" x="238" y="1105">.05</text><text class="nm" x="275" y="1120">.04</text><text class="nm" x="258" y="1145">.06</text><text class="nm" x="298" y="1157">.07</text><text class="nm" x="285" y="1180">.02</text><text class="nm" x="307" y="1208">.0</text>
<text class="r2" x="736" y="112">.42</text><text class="r2" x="738" y="128">.31</text>
<text class="r2" x="738" y="147">9</text><text class="r2" x="738" y="166">5</text><text class="r2" x="738" y="184">1</text><text class="r2" x="738" y="202">4</text><text class="r2" x="738" y="221">8</text><text class="r2" x="738" y="239">5</text><text class="r2" x="738" y="258">2</text><text class="r2" x="738" y="276">9</text><text class="r2" x="738" y="294">2</text><text class="r2" x="738" y="313">4</text><text class="r2" x="738" y="331">8</text><text class="r2" x="738" y="349">3</text>
<text class="r2" x="738" y="368">8</text><text class="r2" x="738" y="386">4</text><text class="r2" x="738" y="405">1</text><text class="r2" x="738" y="423">0</text><text class="r2" x="738" y="441">4</text><text class="r2" x="738" y="457">34</text><text class="r2" x="738" y="473">16</text><text class="r2" x="738" y="496">5</text><text class="r2" x="738" y="515">2</text><text class="r2" x="738" y="533">0</text><text class="r2" x="738" y="548">56</text><text class="r2" x="738" y="570">9</text>
<text class="r2" x="738" y="588">1</text><text class="r2" x="738" y="607">2</text><text class="r2" x="738" y="625">8</text><text class="r2" x="738" y="643">9</text><text class="r2" x="738" y="658">45</text><text class="r2" x="738" y="680">5</text><text class="r2" x="738" y="698">7</text><text class="r2" x="738" y="717">9</text><text class="r2" x="738" y="733">38</text><text class="r2" x="738" y="754">3</text><text class="r2" x="738" y="772">0</text><text class="r2" x="738" y="790">9</text>
<text class="r2" x="738" y="809">3</text><text class="r2" x="738" y="827">8</text><text class="r2" x="738" y="845">1</text><text class="r2" x="738" y="864">4</text><text class="r2" x="738" y="882">1</text><text class="r2" x="738" y="901">0</text><text class="r2" x="738" y="919">5</text><text class="r2" x="738" y="937">8</text><text class="r2" x="738" y="956">5</text><text class="r2" x="738" y="974">3</text><text class="r2" x="738" y="992">2</text><text class="r2" x="738" y="1011">4</text>
<text class="r2" x="738" y="1029">7</text><text class="r2" x="742" y="1046">23</text><text class="r2" x="738" y="1066">3</text><text class="r2" x="738" y="1084">8</text><text class="r2" x="738" y="1103">7</text><text class="r2" x="738" y="1121">8</text><text class="r2" x="738" y="1136">36</text><text class="r2" x="738" y="1158">7</text><text class="r2" x="738" y="1176">2</text><text class="r2" x="738" y="1195">3</text>
<text class="one" x="638" y="132">1</text><text class="one" x="638" y="150.4">1</text><text class="one" x="638" y="168.7">1</text><text class="one" x="638" y="187.1">1</text><text class="one" x="638" y="205.5">1</text><text class="one" x="638" y="223.9">1</text><text class="one" x="638" y="242.2">1</text><text class="one" x="638" y="260.6">1</text><text class="one" x="638" y="279">1</text><text class="one" x="638" y="297.3">1</text><text class="one" x="638" y="315.7">1</text><text class="one" x="638" y="334.1">1</text>
<text class="one" x="638" y="352.4">1</text><text class="one" x="638" y="370.8">1</text><text class="one" x="638" y="389.2">1</text><text class="one" x="638" y="407.6">1</text><text class="one" x="638" y="425.9">1</text><text class="one" x="638" y="444.3">1</text><text class="one" x="638" y="462.7">1</text><text class="one" x="638" y="481">1</text><text class="one" x="638" y="499.4">1</text><text class="one" x="638" y="517.8">1</text><text class="one" x="638" y="536.2">1</text><text class="one" x="638" y="554.5">1</text>
<text class="one" x="638" y="572.9">1</text><text class="one" x="638" y="591.3">1</text><text class="one" x="638" y="609.6">1</text><text class="one" x="638" y="628">1</text><text class="one" x="638" y="646.4">1</text><text class="one" x="638" y="664.7">1</text><text class="one" x="638" y="683.1">1</text><text class="one" x="638" y="701.5">1</text><text class="one" x="638" y="719.9">1</text><text class="one" x="638" y="738.2">1</text><text class="one" x="638" y="756.6">1</text><text class="one" x="638" y="775">1</text>
<text class="one" x="638" y="793.3">1</text><text class="one" x="638" y="811.7">1</text><text class="one" x="638" y="830.1">1</text><text class="one" x="638" y="848.4">1</text><text class="one" x="638" y="866.8">1</text><text class="one" x="638" y="885.2">1</text><text class="one" x="638" y="903.6">1</text><text class="one" x="638" y="921.9">1</text><text class="one" x="638" y="940.3">1</text><text class="one" x="638" y="958.7">1</text><text class="one" x="638" y="977">1</text><text class="one" x="638" y="995.4">1</text>
<text class="one" x="638" y="1013.8">1</text><text class="one" x="638" y="1032.1">1</text><text class="one" x="638" y="1050.5">1</text><text class="one" x="638" y="1068.9">1</text><text class="one" x="638" y="1087.3">1</text><text class="one" x="638" y="1105.6">1</text><text class="one" x="638" y="1124">1</text><text class="one" x="638" y="1142.4">1</text><text class="one" x="638" y="1160.7">1</text><text class="one" x="638" y="1179.1">1</text><text class="one" x="638" y="1197.5">1</text><text class="one" x="638" y="1215.8">1</text>
</g>
</svg>
